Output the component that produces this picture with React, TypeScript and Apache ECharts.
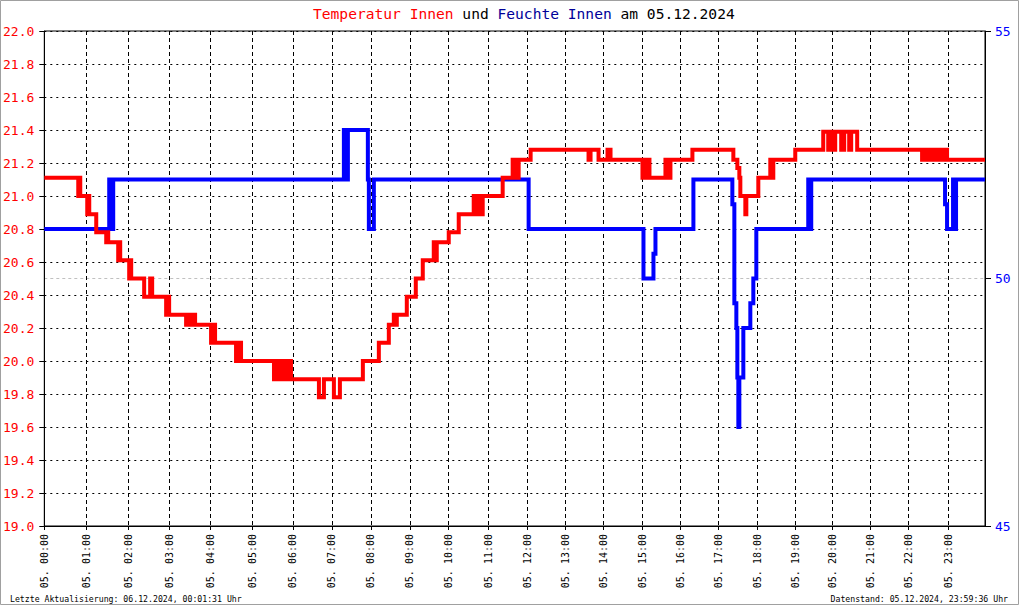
import React, { useEffect, useRef } from "react";
import * as echarts from "echarts";

// x = sample index of the logger (samples are not evenly spaced in time)
const sampleCount = 942;
const hourIdx = [0, 42, 84, 125, 166, 208, 249, 288, 327, 366, 405, 445, 484, 522, 560, 599, 637, 675, 714, 752, 789, 827, 865, 905];
const hourLabels = ["00:00", "01:00", "02:00", "03:00", "04:00", "05:00", "06:00", "07:00", "08:00", "09:00", "10:00", "11:00", "12:00", "13:00", "14:00", "15:00", "16:00", "17:00", "18:00", "19:00", "20:00", "21:00", "22:00", "23:00"];

const tempTicks = { min: 19, max: 22, step: 0.2 };
const humTicks = { min: 45, max: 55, step: 5 };

// Temperatur Innen [sampleIndex, °C] (value holds until next sample)
const tempInnen: [number, number][] = [
  [0, 21.11], [34, 21.0], [35, 21.11], [36, 21.0], [43, 20.89], [44, 21.0], [45, 20.89], [52, 20.78],
  [62, 20.72], [63, 20.78], [64, 20.72], [74, 20.61], [75, 20.72], [76, 20.61], [85, 20.5], [86, 20.61], [87, 20.5],
  [100, 20.39], [106, 20.5], [108, 20.39], [122, 20.28], [124, 20.39], [125, 20.28],
  [142, 20.22], [144, 20.28], [145, 20.22], [149, 20.28], [151, 20.22], [167, 20.11], [169, 20.22], [171, 20.11],
  [192, 20.0], [195, 20.11], [197, 20.0],
  [230, 19.89], [231, 20.0], [233, 19.89], [234, 20.0], [236, 19.89], [237, 20.0], [239, 19.89], [240, 20.0],
  [242, 19.89], [243, 20.0], [245, 19.89], [246, 20.0], [247, 19.89],
  [275, 19.78], [280, 19.89], [290, 19.78], [296, 19.89], [319, 20.0], [335, 20.11], [345, 20.22],
  [350, 20.28], [351, 20.22], [353, 20.28], [363, 20.39], [372, 20.5], [379, 20.61], [390, 20.72], [391, 20.61],
  [393, 20.72], [405, 20.78], [415, 20.89], [430, 21.0], [431, 20.89], [433, 21.0], [434, 20.89], [436, 21.0],
  [437, 20.89], [439, 21.0], [459, 21.11], [469, 21.22], [471, 21.11], [473, 21.22], [474, 21.11], [475, 21.22],
  [487, 21.28], [545, 21.22], [547, 21.28], [555, 21.22], [564, 21.28], [567, 21.22],
  [599, 21.11], [601, 21.22], [603, 21.11], [605, 21.22], [606, 21.11], [622, 21.22], [623, 21.11], [625, 21.22],
  [626, 21.11], [627, 21.22], [649, 21.28], [690, 21.22], [694, 21.17], [696, 21.11], [697, 21.0], [702, 20.89],
  [703, 21.0], [715, 21.11], [727, 21.22], [728, 21.11], [730, 21.22], [752, 21.28],
  [780, 21.39], [785, 21.28], [787, 21.39], [791, 21.28], [792, 21.39], [798, 21.28], [801, 21.39], [806, 21.28],
  [808, 21.39], [814, 21.28],
  [879, 21.22], [882, 21.28], [884, 21.22], [887, 21.28], [888, 21.22], [892, 21.28], [894, 21.22], [897, 21.28],
  [899, 21.22], [902, 21.28], [904, 21.22], [942, 21.22],
];

// Feuchte Innen [sampleIndex, %]
const feuchteInnen: [number, number][] = [
  [0, 51], [65, 52], [67, 51], [69, 52], [300, 53], [302, 52], [304, 53], [324, 52], [325, 51], [330, 52],
  [485, 51], [600, 50], [610, 50.5], [612, 51], [650, 52], [689, 51.5], [691, 49.5], [693, 49], [694, 48],
  [695, 47], [696, 48], [700, 49], [707, 49.5], [710, 50], [713, 51], [765, 52], [766, 51], [768, 52],
  [902, 51.5], [904, 51], [910, 52], [911, 51], [913, 52], [942, 52],
];

const titleDate = "05.12.2024";
const dayPrefix = "05.";
const footerLeft = "Letzte Aktualisierung: 06.12.2024, 00:01:31 Uhr";
const footerRight = "Datenstand: 05.12.2024, 23:59:36 Uhr";

const MONO = "'DejaVu Sans Mono', 'Liberation Mono', monospace";
const TITLE_FS = 14.6;

export default function App() {
  const ref = useRef<HTMLDivElement>(null);
  useEffect(() => {
    if (!ref.current) return;
    const chart = echarts.init(ref.current, null, { renderer: "svg" });
    const rs = (color: string) => ({ fill: color, fontFamily: MONO, fontSize: TITLE_FS, fontWeight: "normal" });
    chart.setOption({
      animation: false,
      backgroundColor: "#ffffff",
      grid: {
        left: 43,
        right: 35,
        top: 31,
        bottom: 80,
        show: true,
        borderColor: "#000",
        borderWidth: 1,
        backgroundColor: "transparent",
      },
      xAxis: {
        type: "value",
        min: 0,
        max: sampleCount,
        axisLine: { show: true, lineStyle: { color: "#000", width: 1 } },
        axisTick: { show: true, customValues: hourIdx, length: 4, lineStyle: { color: "#000" } },
        axisLabel: {
          customValues: hourIdx,
          rotate: 90,
          margin: 8,
          fontFamily: MONO,
          fontSize: 10,
          color: "#000",
          formatter: (v: number) => {
            const i = hourIdx.indexOf(Math.round(v));
            return i >= 0 ? `${dayPrefix} ${hourLabels[i]}` : "";
          },
        },
        splitLine: { show: true, lineStyle: { color: "#000", width: 1, type: [4, 3] } },
      },
      yAxis: [
        {
          type: "value",
          min: tempTicks.min,
          max: tempTicks.max,
          interval: tempTicks.step,
          position: "left",
          axisLine: { show: true, lineStyle: { color: "#000" } },
          axisTick: { show: true, length: 5, lineStyle: { color: "#000" } },
          axisLabel: {
            color: "#ff0000",
            fontFamily: MONO,
            fontSize: 13,
            margin: 10,
            formatter: (v: number) => v.toFixed(1),
          },
          splitLine: { show: true, lineStyle: { color: "#000", width: 1, type: [2, 4] } },
        },
        {
          type: "value",
          min: humTicks.min,
          max: humTicks.max,
          interval: humTicks.step,
          position: "right",
          axisLine: { show: true, lineStyle: { color: "#000" } },
          axisTick: { show: true, length: 6, lineStyle: { color: "#000" } },
          axisLabel: { color: "#0000ff", fontFamily: MONO, fontSize: 13, margin: 10 },
          splitLine: {
            show: true,
            lineStyle: { color: ["rgba(0,0,0,0)", "#c0c0c0", "rgba(0,0,0,0)"], width: 1, type: [3, 3] },
          },
        },
      ],
      series: [
        {
          name: "Feuchte Innen",
          type: "line",
          yAxisIndex: 1,
          step: "end",
          data: feuchteInnen,
          showSymbol: false,
          symbol: "none",
          lineStyle: { color: "#0000ff", width: 4, cap: "butt", join: "miter" },
          z: 3,
        },
        {
          name: "Temperatur Innen",
          type: "line",
          yAxisIndex: 0,
          step: "end",
          data: tempInnen,
          showSymbol: false,
          symbol: "none",
          lineStyle: { color: "#ff0000", width: 4, cap: "butt", join: "miter" },
          z: 4,
        },
      ],
      graphic: [
        {
          type: "rect",
          shape: { x: 0.5, y: 0.5, width: 1018, height: 604 },
          style: { fill: "none", stroke: "#a0a0a0", lineWidth: 1 },
          silent: true,
        },
        {
          type: "text",
          x: 313,
          y: 13,
          style: {
            text: `{r|Temperatur Innen}{k| und }{b|Feuchte Innen}{k| am ${titleDate}}`,
            textAlign: "left",
            textVerticalAlign: "middle",
            fontFamily: MONO,
            fontSize: TITLE_FS,
            fontWeight: "normal",
            rich: { r: rs("#ff0000"), k: rs("#000000"), b: rs("#000099") },
          },
        },
        {
          type: "text",
          x: 10,
          y: 599,
          style: {
            text: footerLeft,
            fill: "#000",
            font: `8.2px ${MONO}`,
            textAlign: "left",
            textVerticalAlign: "middle",
          },
        },
        {
          type: "text",
          x: 1008,
          y: 599,
          style: {
            text: footerRight,
            fill: "#000",
            font: `8.2px ${MONO}`,
            textAlign: "right",
            textVerticalAlign: "middle",
          },
        },
      ],
    });
    return () => chart.dispose();
  }, []);
  return (
    <div
      ref={ref}
      style={{ position: "absolute", left: 0, top: 0, width: 1020, height: 606, background: "#fff" }}
    />
  );
}
